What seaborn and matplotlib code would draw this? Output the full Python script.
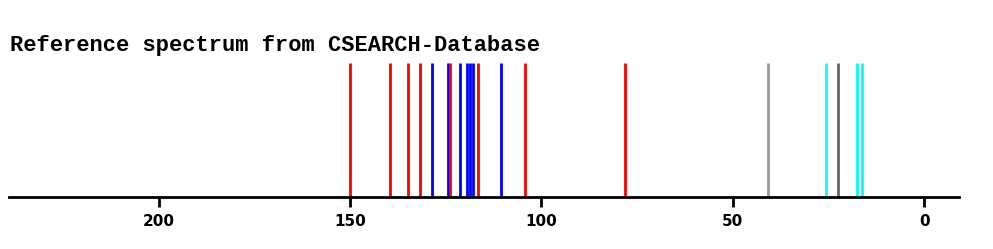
import matplotlib
matplotlib.use("Agg")
import matplotlib.pyplot as plt
import seaborn as sns
import pandas as pd

shifts = [149.9, 139.5, 134.8, 131.6, 128.6, 124.5, 123.9, 121.3, 119.4, 118.6,
          117.8, 116.6, 110.5, 104.2, 78.1, 40.8, 25.6, 22.6, 17.6, 16.2]
colors = ["red", "red", "red", "red", "blue", "blue", "red", "blue", "blue", "blue",
          "blue", "red", "blue", "red", "red", "lightgray", "cyan", "darkgray", "cyan", "cyan"]
palette = {"red": "#ff0000", "blue": "#0000ff", "cyan": "#00ffff",
           "lightgray": "#999999", "darkgray": "#666666"}
ticks = [200, 150, 100, 50, 0]
title = "Reference spectrum from CSEARCH-Database"

df = pd.DataFrame({"shift": shifts, "color": colors})

sns.set_style("white")
fig = plt.figure(figsize=(9.93, 2.49), dpi=100)
ax = fig.add_axes([9 / 993, 52 / 249, 950 / 993, 134 / 249])

sns.rugplot(data=df, x="shift", hue="color", palette=palette, height=1.0,
            linewidth=2, ax=ax, legend=False, clip_on=False)

ax.set_xlim(239.1, -9.1)
ax.set_ylim(0, 1)
ax.set_yticks([])
ax.set_xticks(ticks)
ax.set_xticklabels([str(t) for t in ticks], fontsize=11, color="black",
                   fontweight="bold", family="DejaVu Sans")
ax.tick_params(axis="x", direction="out", length=7, width=2, color="black", pad=5,
               bottom=True)
for s in ["top", "left", "right"]:
    ax.spines[s].set_visible(False)
ax.spines["bottom"].set_linewidth(2)
ax.spines["bottom"].set_color("black")
ax.set_xlabel("")
ax.set_ylabel("")

fig.text(10 / 993, 1 - 45 / 249, title, family="Liberation Mono", fontweight="bold",
         fontsize=15.85, va="center", ha="left", color="black")

fig.savefig("out.png", dpi=100)
